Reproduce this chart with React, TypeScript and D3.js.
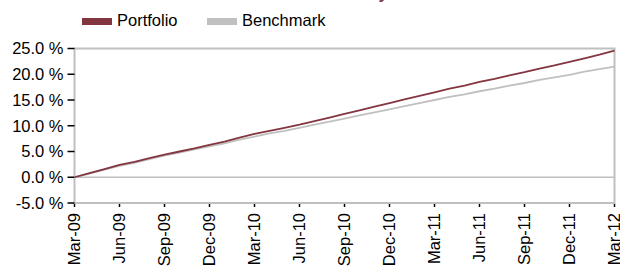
import React, { useEffect, useRef } from 'react';
import * as d3 from 'd3';

// monthly cumulative returns (%), Mar-09 .. Mar-12
const months = d3.range(0, 37);
const portfolio = [
  0.0, 0.8, 1.6, 2.4, 3.0, 3.7, 4.4, 5.0, 5.6, 6.3, 6.9, 7.7, 8.4,
  9.0, 9.6, 10.2, 10.9, 11.6, 12.3, 13.0, 13.7, 14.4, 15.1, 15.8, 16.5,
  17.2, 17.8, 18.5, 19.1, 19.8, 20.4, 21.1, 21.7, 22.4, 23.1, 23.8, 24.6,
];
const benchmark = [
  0.0, 0.7, 1.5, 2.2, 2.8, 3.5, 4.2, 4.8, 5.4, 6.0, 6.6, 7.3, 7.9,
  8.5, 9.0, 9.6, 10.2, 10.8, 11.4, 12.0, 12.6, 13.2, 13.8, 14.4, 15.0,
  15.6, 16.1, 16.7, 17.2, 17.8, 18.3, 18.9, 19.4, 19.9, 20.5, 21.0, 21.5,
];
const xTickLabels = [
  'Mar-09', 'Jun-09', 'Sep-09', 'Dec-09', 'Mar-10', 'Jun-10', 'Sep-10',
  'Dec-10', 'Mar-11', 'Jun-11', 'Sep-11', 'Dec-11', 'Mar-12',
];
const yTicks = [-5, 0, 5, 10, 15, 20, 25];

const W = 620;
const H = 268;
const FONT = '"Liberation Sans", Arial, sans-serif';
const RED = '#833640';
const GREY = '#C0C0C0';

const App = () => {
  const svgRef = useRef<SVGSVGElement>(null);

  useEffect(() => {
    const svg = d3.select(svgRef.current);
    svg.selectAll('*').remove();

    const x = d3.scaleLinear().domain([0, 36]).range([74.5, 614.5]);
    const y = d3.scaleLinear().domain([-5, 25]).range([203, 48.5]);

    // title, mostly clipped at the top
    svg.append('text')
      .attr('x', 388).attr('y', -1)
      .attr('text-anchor', 'end')
      .attr('font-family', FONT).attr('font-size', 17).attr('font-weight', 'bold')
      .attr('fill', RED)
      .text('Cumulative Performance History');

    // legend
    const legend = [
      { name: 'Portfolio', color: RED, x: 82 },
      { name: 'Benchmark', color: GREY, x: 207 },
    ];
    legend.forEach((l) => {
      svg.append('rect').attr('x', l.x).attr('y', 18).attr('width', 30).attr('height', 7).attr('fill', l.color);
      svg.append('text')
        .attr('x', l.x + 35).attr('y', 26)
        .attr('font-family', FONT).attr('font-size', 16.5).attr('fill', '#000')
        .text(l.name);
    });

    // frame
    svg.append('rect')
      .attr('x', x(0)).attr('y', y(25))
      .attr('width', x(36) - x(0)).attr('height', y(-5) - y(25))
      .attr('fill', 'none').attr('stroke', GREY).attr('stroke-width', 2);

    // zero line
    svg.append('line')
      .attr('x1', x(0)).attr('x2', x(36))
      .attr('y1', y(0)).attr('y2', y(0))
      .attr('stroke', GREY).attr('stroke-width', 1.5);

    // y axis ticks + labels
    const yAxis = svg.append('g');
    yTicks.forEach((t) => {
      yAxis.append('line')
        .attr('x1', x(0) - 7).attr('x2', x(0))
        .attr('y1', y(t)).attr('y2', y(t))
        .attr('stroke', '#000').attr('stroke-width', 1.5);
      yAxis.append('text')
        .attr('x', x(0) - 11).attr('y', y(t)).attr('dy', '0.36em')
        .attr('text-anchor', 'end')
        .attr('font-family', FONT).attr('font-size', 16.5).attr('fill', '#000')
        .text(`${t.toFixed(1)} %`);
    });

    // x axis ticks + labels
    const xAxis = svg.append('g');
    xTickLabels.forEach((lab, i) => {
      const xi = x(i * 3);
      xAxis.append('line')
        .attr('x1', xi).attr('x2', xi)
        .attr('y1', y(-5) + 1).attr('y2', y(-5) + 4)
        .attr('stroke', '#000').attr('stroke-width', 1.5);
      xAxis.append('text')
        .attr('transform', `translate(${xi},${y(-5) + 10}) rotate(-90)`)
        .attr('dy', '0.36em')
        .attr('text-anchor', 'end')
        .attr('font-family', FONT).attr('font-size', 16.5).attr('fill', '#000')
        .text(lab);
    });

    const line = d3.line<number>()
      .x((_, i) => x(months[i]))
      .y((d) => y(d));

    svg.append('path')
      .datum(benchmark)
      .attr('d', line)
      .attr('fill', 'none').attr('stroke', GREY).attr('stroke-width', 1.8);

    svg.append('path')
      .datum(portfolio)
      .attr('d', line)
      .attr('fill', 'none').attr('stroke', RED).attr('stroke-width', 1.8);
  }, []);

  return (
    <svg
      ref={svgRef}
      width={W}
      height={H}
      style={{ position: 'absolute', left: 0, top: 0, background: '#fff' }}
    />
  );
};

export default App;
